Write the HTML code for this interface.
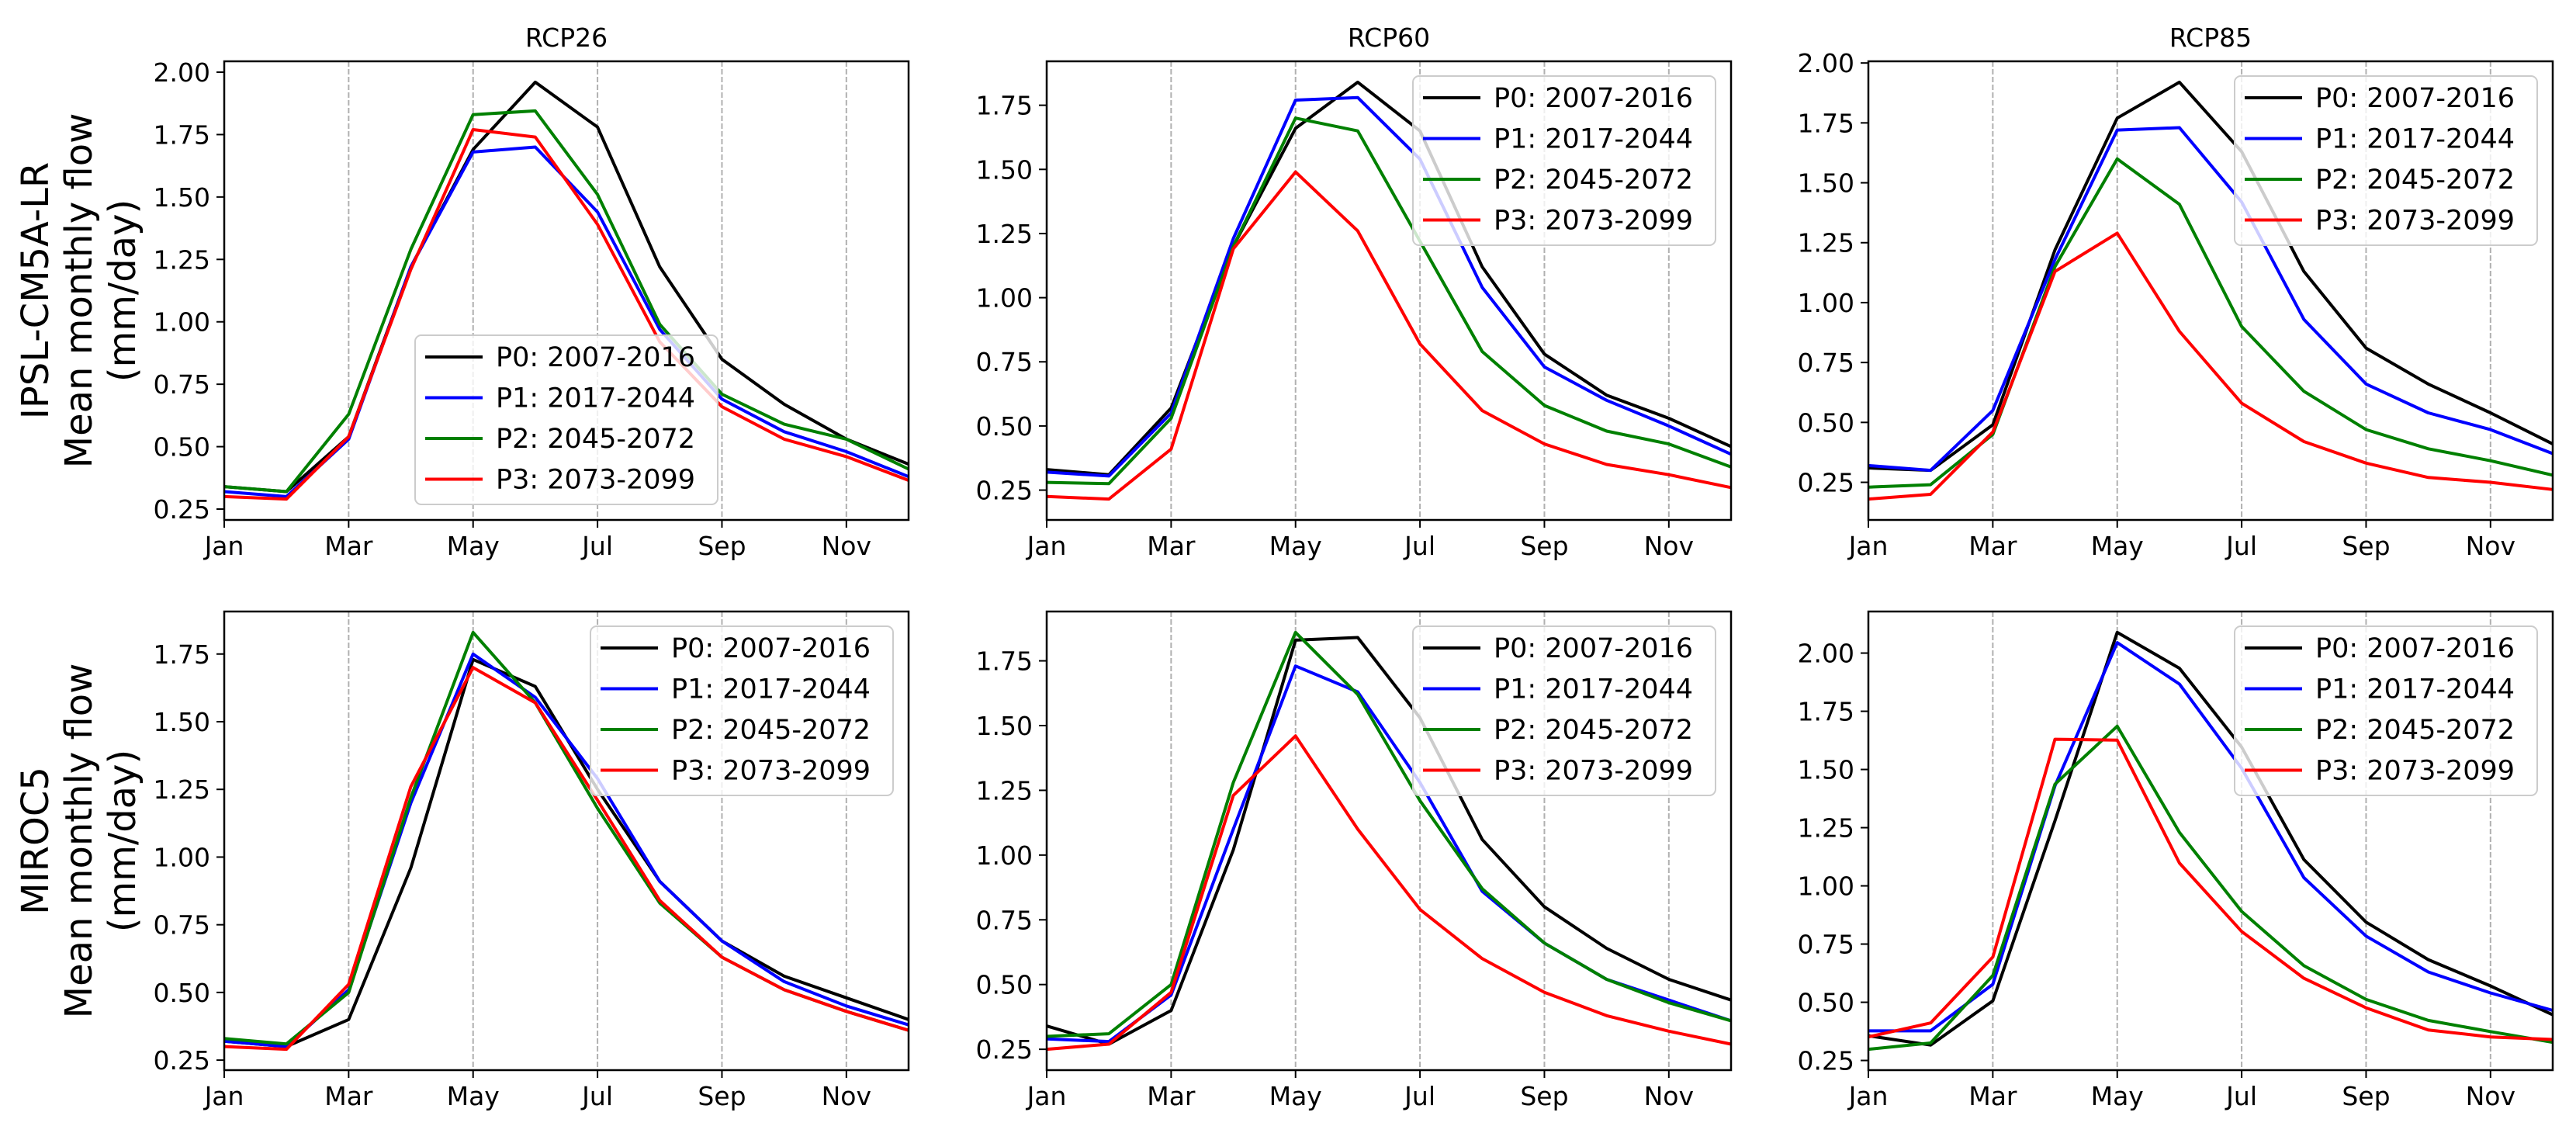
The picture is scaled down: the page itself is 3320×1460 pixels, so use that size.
<!DOCTYPE html>
<html><head><meta charset="utf-8"><style>
html,body{margin:0;padding:0;background:#fff;}
svg{display:block;font-family:"DejaVu Sans","Liberation Sans",sans-serif;}
</style></head><body>
<svg id="fig" width="3320" height="1460" viewBox="0 0 3320 1460"></svg>
<script>
const months = ["Jan","Feb","Mar","Apr","May","Jun","Jul","Aug","Sep","Oct","Nov","Dec"];
const seriesLabels = ["P0: 2007-2016","P1: 2017-2044","P2: 2045-2072","P3: 2073-2099"];
const seriesColors = ["#000000","#0000ff","#008000","#ff0000"];
const colTitles = ["RCP26","RCP60","RCP85"];
const rowModels = ["IPSL-CM5A-LR","MIROC5"];

// IPSL RCP26
const ipsl26_p0 = [0.34,0.32,0.54,1.22,1.69,1.96,1.78,1.22,0.85,0.67,0.53,0.43];
const ipsl26_p1 = [0.32,0.30,0.53,1.22,1.68,1.70,1.44,0.97,0.69,0.56,0.48,0.38];
const ipsl26_p2 = [0.34,0.32,0.63,1.29,1.83,1.845,1.51,0.99,0.71,0.59,0.53,0.41];
const ipsl26_p3 = [0.30,0.29,0.54,1.21,1.77,1.74,1.39,0.92,0.66,0.53,0.46,0.365];
// IPSL RCP60
const ipsl60_p0 = [0.33,0.31,0.57,1.20,1.66,1.84,1.65,1.12,0.78,0.62,0.53,0.42];
const ipsl60_p1 = [0.32,0.305,0.55,1.23,1.77,1.78,1.54,1.04,0.73,0.60,0.50,0.39];
const ipsl60_p2 = [0.28,0.275,0.53,1.20,1.70,1.65,1.22,0.79,0.58,0.48,0.43,0.34];
const ipsl60_p3 = [0.225,0.215,0.41,1.19,1.49,1.26,0.82,0.56,0.43,0.35,0.31,0.26];
// IPSL RCP85
const ipsl85_p0 = [0.31,0.30,0.49,1.22,1.77,1.92,1.63,1.13,0.81,0.66,0.54,0.41];
const ipsl85_p1 = [0.32,0.30,0.55,1.18,1.72,1.73,1.42,0.93,0.66,0.54,0.47,0.37];
const ipsl85_p2 = [0.23,0.24,0.45,1.15,1.60,1.41,0.90,0.63,0.47,0.39,0.34,0.28];
const ipsl85_p3 = [0.18,0.20,0.46,1.13,1.29,0.88,0.58,0.42,0.33,0.27,0.25,0.22];
// MIROC5 RCP26
const miroc26_p0 = [0.32,0.30,0.40,0.96,1.73,1.63,1.25,0.91,0.69,0.56,0.48,0.40];
const miroc26_p1 = [0.32,0.30,0.51,1.20,1.75,1.59,1.29,0.91,0.69,0.54,0.45,0.38];
const miroc26_p2 = [0.33,0.31,0.50,1.22,1.83,1.57,1.18,0.83,0.63,0.51,0.43,0.36];
const miroc26_p3 = [0.30,0.29,0.53,1.26,1.70,1.57,1.21,0.84,0.63,0.51,0.43,0.36];
// MIROC5 RCP60
const miroc60_p0 = [0.34,0.27,0.40,1.02,1.83,1.84,1.53,1.06,0.80,0.64,0.52,0.44];
const miroc60_p1 = [0.29,0.28,0.46,1.10,1.73,1.63,1.28,0.86,0.66,0.52,0.44,0.36];
const miroc60_p2 = [0.30,0.31,0.50,1.28,1.86,1.62,1.21,0.87,0.66,0.52,0.43,0.36];
const miroc60_p3 = [0.25,0.27,0.47,1.23,1.46,1.10,0.79,0.60,0.47,0.38,0.32,0.27];
// MIROC5 RCP85
const miroc85_p0 = [0.356,0.316,0.506,1.28,2.089,1.935,1.596,1.113,0.844,0.683,0.57,0.446];
const miroc85_p1 = [0.377,0.377,0.577,1.43,2.045,1.867,1.505,1.035,0.784,0.63,0.54,0.465];
const miroc85_p2 = [0.298,0.325,0.615,1.437,1.686,1.23,0.89,0.657,0.512,0.422,0.374,0.328];
const miroc85_p3 = [0.351,0.411,0.694,1.63,1.626,1.098,0.804,0.603,0.476,0.381,0.351,0.34];

const panels = [
  [ [ipsl26_p0,ipsl26_p1,ipsl26_p2,ipsl26_p3], [ipsl60_p0,ipsl60_p1,ipsl60_p2,ipsl60_p3], [ipsl85_p0,ipsl85_p1,ipsl85_p2,ipsl85_p3] ],
  [ [miroc26_p0,miroc26_p1,miroc26_p2,miroc26_p3], [miroc60_p0,miroc60_p1,miroc60_p2,miroc60_p3], [miroc85_p0,miroc85_p1,miroc85_p2,miroc85_p3] ]
];

const NS = "http://www.w3.org/2000/svg";
const svg = document.getElementById("fig");
function mk(tag, attrs, parent, text){
  const e = document.createElementNS(NS, tag);
  for (const k in attrs) e.setAttribute(k, attrs[k]);
  if (text !== undefined) e.textContent = text;
  (parent || svg).appendChild(e);
  return e;
}
const colLeft = [289, 1349, 2408];
const rowTop = [79, 788];
const W = 882, H = 591;

for (let r = 0; r < 2; r++) {
  const cy = rowTop[r] + H/2;
  const yl = mk("text", {transform:`translate(0,${cy}) rotate(-90)`, "text-anchor":"middle", "font-size":"48"});
  
  
  const lines = [rowModels[r], "Mean monthly flow", "(mm/day)"];
  lines.forEach((t,i)=>{ mk("tspan", {x:0, y:[62,118,174][i]}, yl, t); });

  for (let c = 0; c < 3; c++) {
    const data = panels[r][c];
    const x0 = colLeft[c], y0 = rowTop[r];
    const g = mk("g", {});
    
    
    let mn = Infinity, mx = -Infinity;
    data.forEach(s => s.forEach(v => { mn = Math.min(mn, v); mx = Math.max(mx, v); }));
    const pad = (mx - mn) * 0.05;
    const ymin = mn - pad, ymax = mx + pad;
    const xs = i => x0 + i * W / 11;
    const ys = v => y0 + H - (v - ymin) / (ymax - ymin) * H;

    for (let i = 0; i < 12; i += 2) {
      const x = xs(i);
      const gl = mk("line", {x1:x, y1:y0, x2:x, y2:y0+H, stroke:"#b0b0b0", "stroke-width":2, "stroke-dasharray":"7,3"}, g);
      
      
      mk("line", {x1:x, y1:y0+H, x2:x, y2:y0+H+10, stroke:"#000", "stroke-width":2}, g);
      const tl = mk("text", {x:x, y:y0+H+45, "text-anchor":"middle", "font-size":"33"}, g, months[i]);
      
      
    }
    for (let t = 0; t <= 2.5; t += 0.25) {
      if (t < ymin - 1e-9 || t > ymax + 1e-9) continue;
      const y = ys(t);
      mk("line", {x1:x0-10, y1:y, x2:x0, y2:y, stroke:"#000", "stroke-width":2}, g);
      const tl = mk("text", {x:x0-18, y:y+12, "text-anchor":"end", "font-size":"33"}, g, t.toFixed(2));
      
      
    }
    data.forEach((s, k) => {
      const pts = s.map((v, i) => xs(i).toFixed(1) + "," + ys(v).toFixed(1)).join(" ");
      const pl = mk("polyline", {points:pts, fill:"none", stroke:seriesColors[k], "stroke-width":4, "stroke-linejoin":"round"}, g);
      
      
    });
    const fr = mk("rect", {x:x0, y:y0, width:W, height:H, fill:"none", stroke:"#000", "stroke-width":2.5}, g);
    
    
    if (r === 0) {
      const tt = mk("text", {x:x0+W/2, y:y0-19, "text-anchor":"middle", "font-size":"33"}, g, colTitles[c]);
      
      
    }
    let lx, ly;
    if (r === 0 && c === 0) { lx = x0 + 246; ly = y0 + 353; }
    else { lx = x0 + W - 410; ly = y0 + 19; }
    const lg = mk("g", {}, g);
    
    
    mk("rect", {x:lx, y:ly, width:390, height:218, rx:8, fill:"rgba(255,255,255,0.8)", stroke:"#cccccc", "stroke-width":2}, lg);
    seriesLabels.forEach((lab, k) => {
      const yy = ly + 28 + k * 52.5;
      const le = mk("g", {}, lg);
      
      
      mk("line", {x1:lx+13, y1:yy, x2:lx+87, y2:yy, stroke:seriesColors[k], "stroke-width":4}, le);
      mk("text", {x:lx+104, y:yy+12, "font-size":"35"}, le, lab);
    });
  }
}
</script>
</body></html>
